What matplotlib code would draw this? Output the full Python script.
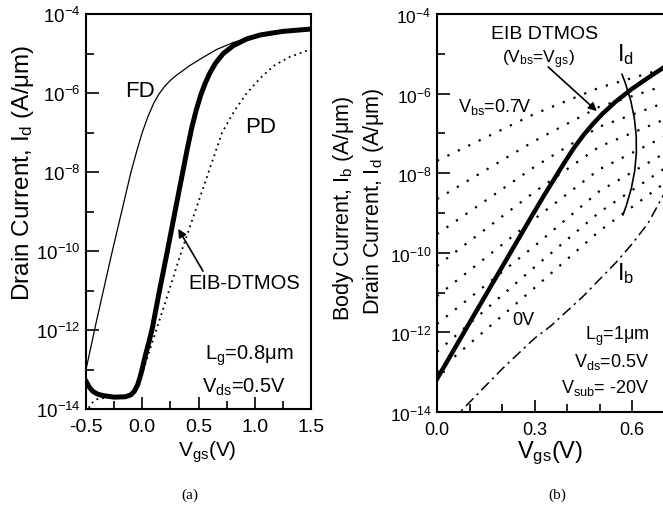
import numpy as np
import matplotlib.pyplot as plt
from matplotlib.patches import FancyArrowPatch
from matplotlib.ticker import NullFormatter

plt.rcParams['font.family'] = ['Liberation Sans', 'DejaVu Sans']
plt.rcParams['mathtext.fontset'] = 'custom'
plt.rcParams['mathtext.rm'] = 'Liberation Sans'
plt.rcParams['mathtext.it'] = 'Liberation Sans'
plt.rcParams['mathtext.default'] = 'regular'

# ---- panel (a): Id-Vgs, Lg=0.8um, Vds=0.5V  (log10 of current) ----
vgs_fd = [-0.5, -0.405, -0.27, -0.1, -0.05, 0.0, 0.05, 0.1, 0.15, 0.2, 0.25, 0.3, 0.42,
          0.54, 0.66, 0.81, 0.99, 1.2, 1.5]
log_fd = [-13.0, -11.75, -10.05, -8.0, -7.48, -7.0, -6.6, -6.27, -6.02, -5.83, -5.68, -5.56,
          -5.31, -5.10, -4.9, -4.72, -4.57, -4.46, -4.38]

vgs_eib = [-0.5, -0.47, -0.44, -0.4, -0.35, -0.25, -0.15, -0.1, -0.07, -0.04, -0.02, 0.0,
           0.03, 0.06, 0.09, 0.15, 0.22, 0.29, 0.36, 0.40, 0.44, 0.48, 0.52, 0.56, 0.6,
           0.65, 0.72, 0.81, 0.93, 1.05, 1.25, 1.5]
log_eib = [-13.3, -13.45, -13.55, -13.62, -13.66, -13.7, -13.69, -13.64, -13.55, -13.38,
           -13.2, -12.98, -12.62, -12.3, -11.95, -11.05, -10.05, -9.02, -8.0, -7.42, -6.88,
           -6.43, -6.05, -5.75, -5.5, -5.25, -5.0, -4.8, -4.63, -4.53, -4.44, -4.38]

vgs_pd = [-0.5, -0.45, -0.4, -0.3, -0.2, -0.1, -0.05, 0.0, 0.07, 0.2, 0.35, 0.47, 0.59,
          0.71, 0.82, 0.93, 1.05, 1.17, 1.3, 1.5]
log_pd = [-14.1, -13.85, -13.75, -13.7, -13.7, -13.65, -13.5, -13.1, -12.48, -11.34, -10.0,
          -9.0, -8.0, -7.0, -6.45, -6.0, -5.62, -5.31, -5.1, -4.89]

# ---- panel (b): EIB DTMOS vs fixed Vbs, Lg=1um ----
vgs_b = [0.0, 0.3, 0.5, 0.7]
vbs_labels = ['0.7V', '0.6V', '0.5V', '0.4V', '0.3V', '0.2V', '0.1V', '0V']
log_vbs = [
    [-7.69, -6.51, -5.85, -5.37],
    [-8.65, -7.19, -6.33, -5.80],
    [-9.53, -7.84, -6.83, -6.23],
    [-10.33, -8.47, -7.33, -6.65],
    [-11.09, -9.15, -7.90, -7.08],
    [-11.79, -9.83, -8.45, -7.50],
    [-12.49, -10.36, -8.98, -7.88],
    [-12.99, -10.88, -9.45, -8.25],
]

vgs_id = [0.0, 0.1, 0.2, 0.29, 0.33, 0.39, 0.42, 0.45, 0.48, 0.51, 0.55, 0.6, 0.65, 0.7]
log_id = [-13.17, -11.76, -10.36, -9.1, -8.55, -7.76, -7.38, -7.05, -6.76, -6.5, -6.2,
          -5.88, -5.6, -5.33]

vgs_ib = [0.05, 0.071, 0.2, 0.3, 0.35, 0.45, 0.55, 0.6, 0.65, 0.7]
log_ib = [-14.3, -14.0, -12.92, -12.15, -11.84, -11.09, -10.25, -9.78, -9.25, -8.5]

W, H = 663, 510
fig = plt.figure(figsize=(W / 100, H / 100), dpi=100)
ax1 = fig.add_axes([86 / W, 100 / H, 225 / W, 395 / H])
ax2 = fig.add_axes([437 / W, 97 / H, 227.5 / W, 398 / H])

ymaj = [10.0 ** e for e in range(-14, -3, 2)]
ymin = [10.0 ** e for e in range(-13, -4, 2)]
ylab = ['$10^{%d}$' % e for e in range(-14, -3, 2)]

for ax, lsize in ((ax1, 13.5), (ax2, 12.5)):
    ax.set_yscale('log')
    ax.set_ylim(1e-14, 1e-4)
    ax.set_yticks(ymaj)
    ax.set_yticklabels(ylab)
    ax.set_yticks(ymin, minor=True)
    ax.yaxis.set_minor_formatter(NullFormatter())
    ax.tick_params(which='both', direction='in', top=False, right=False, width=1.2,
                   labelsize=lsize)
    ax.tick_params(which='major', length=9)
    ax.tick_params(which='minor', length=6)
    ax.tick_params(axis='y', pad=4)
    ax.tick_params(axis='x', pad=6.5, labelsize=14 if ax is ax1 else 13)
    for s in ax.spines.values():
        s.set_linewidth(1.5)

# panel (a)
ax1.plot(vgs_fd, 10.0 ** np.array(log_fd), color='k', lw=0.9)
ax1.plot(vgs_eib, 10.0 ** np.array(log_eib), color='k', lw=3.6)
ax1.plot(vgs_pd, 10.0 ** np.array(log_pd), color='k', lw=1.3, linestyle=(0, (1, 2.2)))
ax1.set_xlim(-0.5, 1.5)
ax1.set_xticks([-0.5, 0.0, 0.5, 1.0, 1.5])
ax1.set_xticklabels(['-0.5', '0.0', '0.5', '1.0', '1.5'])
ax1.set_xticks([-0.25, 0.25, 0.75, 1.25], minor=True)

ax1.text(-0.153, 10 ** -6.07, 'FD', fontsize=16)
ax1.text(0.913, 10 ** -6.99, 'PD', fontsize=16)
ax1.text(0.407, 10 ** -10.94, 'EIB-DTMOS', fontsize=14.5)
ax1.text(0.558, 10 ** -12.73, 'L$_g$=0.8μm', fontsize=14.5)
ax1.text(0.531, 10 ** -13.57, 'V$_{ds}$=0.5V', fontsize=14.5)
ax1.annotate('', xy=(0.32, 10 ** -9.44), xytext=(0.54, 10 ** -10.51),
             arrowprops=dict(arrowstyle='-|>', lw=1.2, color='k', mutation_scale=12,
                             shrinkA=0, shrinkB=0))

# panel (b)
for row in log_vbs:
    ax2.plot(vgs_b, 10.0 ** np.array(row), color='k', lw=1.6, linestyle=(0, (1, 4.2)))
ax2.plot(vgs_id, 10.0 ** np.array(log_id), color='k', lw=3.2)
ax2.plot(vgs_ib, 10.0 ** np.array(log_ib), color='k', lw=1.1, linestyle=(0, (7, 3, 1.5, 3)))
ax2.set_xlim(0, 0.7)
ax2.set_xticks([0.0, 0.3, 0.6])
ax2.set_xticklabels(['0.0', '0.3', '0.6'])
ax2.set_xticks([0.1, 0.2, 0.4, 0.5], minor=True)

ax2.text(0.332, 10 ** -4.61, 'EIB DTMOS', fontsize=14, ha='center')
ax2.text(0.312, 10 ** -5.21, '(V$_{bs}$=V$_{gs}$)', fontsize=12.5, ha='center')
ax2.text(0.554, 10 ** -5.17, 'I$_d$', fontsize=17)
ax2.text(0.065, 10 ** -6.43, 'V$_{bs}$=' + vbs_labels[0], fontsize=13)
ax2.text(0.233, 10 ** -11.79, vbs_labels[-1], fontsize=13)
ax2.text(0.553, 10 ** -10.66, 'I$_b$', fontsize=17)
ax2.text(0.655, 10 ** -12.17, 'L$_g$=1μm', fontsize=13, ha='right')
ax2.text(0.655, 10 ** -12.84, 'V$_{ds}$=0.5V', fontsize=13, ha='right')
ax2.text(0.655, 10 ** -13.50, 'V$_{sub}$= -20V', fontsize=13, ha='right')
ax2.annotate('', xy=(0.492, 10 ** -6.44), xytext=(0.342, 10 ** -5.33),
             arrowprops=dict(arrowstyle='-|>', lw=1.2, color='k', mutation_scale=12,
                             shrinkA=0, shrinkB=0))
bracket = FancyArrowPatch(posA=(0.569, 10 ** -5.51), posB=(0.572, 10 ** -9.05),
                          arrowstyle='-', connectionstyle='arc3,rad=-0.2', lw=1.2,
                          color='k', shrinkA=0, shrinkB=0, transform=ax2.transData)
ax2.add_patch(bracket)

# axis titles
fig.text(23 / W, 1 - 173 / H, 'Drain Current, I$_d$ (A/μm)', rotation=90,
         ha='center', va='center', fontsize=17.5)
fig.text(207 / W, 1 - 452 / H, 'V$_{gs}$(V)', ha='center', va='center', fontsize=15)
fig.text(343 / W, 1 - 208 / H, 'Body Current, I$_b$ (A/μm)', rotation=90,
         ha='center', va='center', fontsize=15.5)
fig.text(373 / W, 1 - 201 / H, 'Drain Current, I$_d$ (A/μm)', rotation=90,
         ha='center', va='center', fontsize=15.5)
fig.text(550 / W, 1 - 453 / H, 'V$_{gs}$(V)', ha='center', va='center', fontsize=17)
fig.text(190 / W, 1 - 495 / H, '(a)', ha='center', va='center', fontsize=11,
         family='Liberation Serif')
fig.text(557 / W, 1 - 495 / H, '(b)', ha='center', va='center', fontsize=11,
         family='Liberation Serif')

fig.savefig('out.png', dpi=100)
